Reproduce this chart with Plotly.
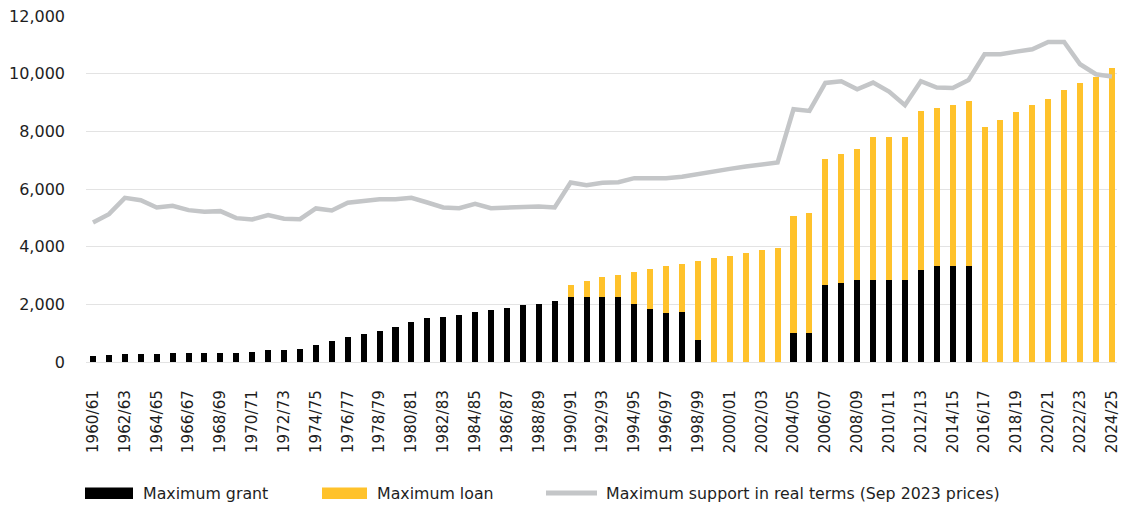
import plotly.graph_objects as go

years = [f"{y}/{str(y + 1)[-2:]}" for y in range(1960, 2025)]

grant = [220, 243, 277, 277, 277, 300, 300, 300, 323, 323,
         346, 404, 427, 462, 577, 716, 855, 982, 1074, 1224,
         1398, 1513, 1559, 1640, 1744, 1802, 1883, 1964, 2021, 2125,
         2241, 2241, 2241, 2241, 2021, 1848, 1686, 1721, 774, 0,
         0, 0, 0, 0, 993, 993, 2668, 2726, 2853, 2853,
         2853, 2853, 3199, 3338, 3338, 3338, 0, 0, 0, 0,
         0, 0, 0, 0, 0]

loan = [0, 0, 0, 0, 0, 0, 0, 0, 0, 0,
        0, 0, 0, 0, 0, 0, 0, 0, 0, 0,
        0, 0, 0, 0, 0, 0, 0, 0, 0, 0,
        416, 566, 704, 785, 1109, 1374, 1629, 1675, 2726, 3592,
        3673, 3788, 3895, 3962, 4077, 4158, 4389, 4493, 4539, 4966,
        4966, 4966, 5510, 5463, 5567, 5729, 8143, 8397, 8663, 8917,
        9136, 9436, 9667, 9898, 10187]

real_support = [4839, 5128, 5694, 5613, 5359, 5417, 5267, 5209, 5232, 4990,
                4943, 5094, 4967, 4955, 5325, 5255, 5521, 5567, 5648, 5648,
                5694, 5532, 5359, 5336, 5486, 5336, 5359, 5394, 5394, 5359,
                6225, 6133, 6214, 6237, 6376, 6376, 6376, 6422, 6526, 6618,
                6699, 6780, 6861, 6918, 8766, 8709, 9679, 9737, 9459, 9690,
                9379, 8905, 9737, 9517, 9506, 9783, 10672, 10672, 10764, 10845,
                11100, 11100, 10326, 9979, 9898]

tick_labels = years[::2]

BLACK = "#000000"
YELLOW = "#FFC22B"
GREY = "#C4C6C8"
TEXT = "#1E1E1E"
FONT = "DejaVu Sans"

fig = go.Figure()
fig.add_trace(go.Bar(x=years, y=grant, name="Maximum grant",
                     marker=dict(color=BLACK, line=dict(width=0))))
fig.add_trace(go.Bar(x=years, y=loan, name="Maximum loan",
                     marker=dict(color=YELLOW, line=dict(width=0))))
fig.add_trace(go.Scatter(x=years, y=real_support, mode="lines",
                         name="Maximum support in real terms (Sep 2023 prices)",
                         line=dict(color=GREY, width=4.5)))

# plot area in pixels: left 86, right 1117, top 16, bottom 362
L, R, T, B = 86, 1117, 16, 362
W, H = R - L, B - T


def px(x):
    return (x - L) / W


def py(y):
    return (B - y) / H


legend_items = [
    ("rect", BLACK, 85, 133, 141, "Maximum grant"),
    ("rect", YELLOW, 322, 367, 375, "Maximum loan"),
    ("line", GREY, 546, 597, 604, "Maximum support in real terms (Sep 2023 prices)"),
]
shapes = []
annotations = []
for kind, col, x0, x1, tx, label in legend_items:
    if kind == "rect":
        shapes.append(dict(type="rect", xref="paper", yref="paper",
                           x0=px(x0), x1=px(x1), y0=py(499), y1=py(487.5),
                           fillcolor=col, line=dict(width=0)))
    else:
        shapes.append(dict(type="line", xref="paper", yref="paper",
                           x0=px(x0), x1=px(x1), y0=py(493), y1=py(493),
                           line=dict(color=col, width=5)))
    annotations.append(dict(text=label, xref="paper", yref="paper",
                            x=px(tx), y=py(493), xanchor="left", yanchor="middle",
                            showarrow=False, font=dict(family=FONT, size=15.8, color=TEXT)))

fig.update_layout(
    width=1121, height=506,
    margin=dict(l=L, r=1121 - R, t=T, b=506 - B, autoexpand=False),
    barmode="stack", bargap=0.62,
    plot_bgcolor="white", paper_bgcolor="white",
    showlegend=False,
    font=dict(family=FONT, size=16, color=TEXT),
    shapes=shapes, annotations=annotations,
    xaxis=dict(type="category", range=[-0.44, 64.32], automargin=False,
               tickvals=tick_labels, ticktext=tick_labels,
               tickangle=-90, ticks="", showgrid=False, showline=False,
               ticklabelstandoff=24,
               tickfont=dict(family=FONT, size=15.2, color=TEXT)),
    yaxis=dict(range=[0, 12000], tickvals=[0, 2000, 4000, 6000, 8000, 10000, 12000],
               automargin=False,
               tickformat=",", showgrid=True, gridcolor="#E3E3E3", gridwidth=1,
               zeroline=True, zerolinecolor="#E3E3E3", zerolinewidth=1,
               showline=False, ticks="", ticklabelstandoff=20,
               tickfont=dict(family=FONT, size=16, color=TEXT)),
)

fig.write_html("out.html", config={"displayModeBar": False},
               post_script="document.body.style.margin='0';document.body.style.overflow='hidden';")
